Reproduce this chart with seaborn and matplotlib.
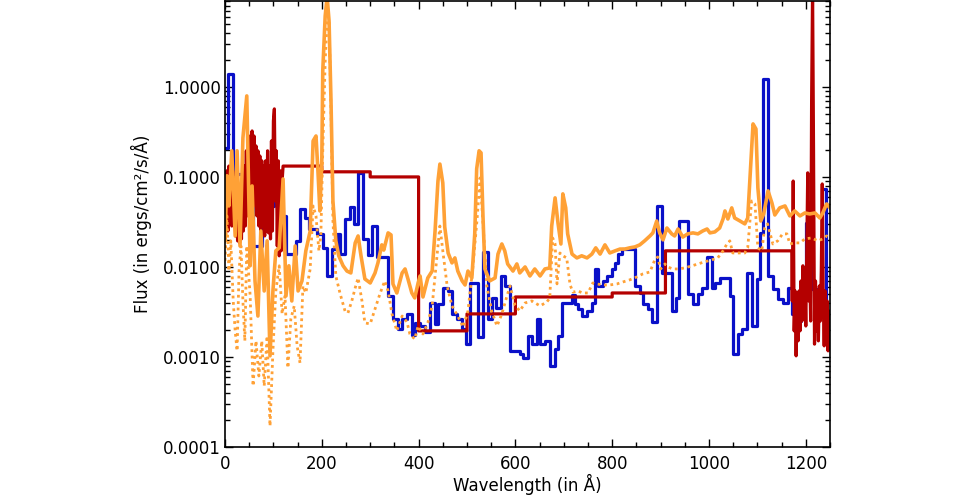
import numpy as np
import pandas as pd
import matplotlib
matplotlib.use("Agg")
import matplotlib.pyplot as plt
import seaborn as sns
from matplotlib.ticker import MultipleLocator, FixedLocator, LogLocator, NullFormatter, FuncFormatter

# ---------------- data ----------------
# blue binned spectrum (bin edges in Angstrom, flux per bin)
blue_edges = [0, 6, 17, 37, 58, 76, 91, 101, 110, 120, 126, 147, 155, 165, 174, 190, 202, 211, 221, 231,
              238, 248, 258, 266, 275, 285, 295, 304, 314, 337, 347, 357, 366, 376, 386, 392, 403, 413, 423, 434,
              440, 450, 461, 469, 479, 490, 498, 506, 522, 533, 543, 551, 560, 570, 578, 589, 609, 615, 626, 634,
              644, 651, 661, 671, 682, 688, 696, 717, 723, 729, 737, 748, 758, 764, 770, 781, 789, 799, 806, 812,
              820, 847, 857, 863, 874, 882, 892, 903, 923, 931, 938, 956, 967, 977, 985, 996, 1006, 1012, 1022, 1043,
              1049, 1060, 1068, 1078, 1088, 1099, 1105, 1111, 1121, 1132, 1142, 1152, 1163, 1171, 1181, 1190, 1200,
              1210, 1223, 1233, 1241, 1250]
blue_flux = [0.210, 1.39, 0.108, 0.090, 0.0171, 0.0648, 0.0476, 0.0570, 0.0205, 0.0369, 0.0139, 0.0195, 0.0441,
             0.0350, 0.0264, 0.0233, 0.0163, 0.00794, 0.0158, 0.0233, 0.0139, 0.0341, 0.0464, 0.0301, 0.111, 0.0205,
             0.0136, 0.0285, 0.0130, 0.00476, 0.00264, 0.00205, 0.00264, 0.00301, 0.00176, 0.00239, 0.00221, 0.00190,
             0.00398, 0.00233, 0.00388, 0.00585, 0.00541, 0.00301, 0.00264, 0.00205, 0.00139, 0.00664, 0.00167,
             0.0145, 0.00264, 0.00453, 0.00350, 0.00794, 0.00615, 0.00117, 0.00108, 0.000975, 0.00171, 0.00139,
             0.00264, 0.00139, 0.00151, 0.000794, 0.00123, 0.00171, 0.00398, 0.00489, 0.00388, 0.00341, 0.00285,
             0.00324, 0.00398, 0.0095, 0.00615, 0.00699, 0.00794, 0.0095, 0.0111, 0.0139, 0.0158, 0.00615, 0.00514,
             0.00388, 0.00341, 0.00245, 0.0476, 0.00858, 0.00324, 0.00453, 0.0324, 0.00501, 0.00388, 0.00501,
             0.00585, 0.0130, 0.00585, 0.00664, 0.00755, 0.00476, 0.00108, 0.00180, 0.00205, 0.00858, 0.00221,
             0.00736, 0.0239, 1.23, 0.00794, 0.00570, 0.00441, 0.00398, 0.00585, 0.00301, 0.00251, 0.00615, 0.0308,
             0.00570, 0.00419, 0.0736, 0.00310]

# dark red: noisy short-wavelength part, coarse bins, noisy long-wavelength part
red_lo_wave = [0, 2, 4, 6, 8, 10, 12, 14, 16, 18, 20, 22, 24, 26, 28, 30, 32, 34, 36, 38,
               40, 42, 44, 46, 48, 50, 52, 54, 56, 58, 60, 62, 64, 66, 68, 70, 72, 74, 76, 78,
               80, 82, 84, 86, 88, 90, 92, 94, 96, 98, 100, 102, 104, 106, 108, 110, 112, 114, 116, 118]
red_lo_flux = [0.0195, 0.0541, 0.117, 0.0251, 0.132, 0.0419, 0.090, 0.0285, 0.117, 0.0369,
               0.0794, 0.0221, 0.0615, 0.0195, 0.0541, 0.0185, 0.0699, 0.0205, 0.090, 0.0251,
               0.132, 0.0285, 0.195, 0.0369, 0.251, 0.0419, 0.285, 0.0541, 0.324, 0.0615,
               0.285, 0.0476, 0.221, 0.0369, 0.195, 0.0285, 0.171, 0.0221, 0.151, 0.0285,
               0.132, 0.0221, 0.151, 0.0251, 0.195, 0.0239, 0.132, 0.0205, 0.251, 0.0251,
               0.419, 0.570, 0.0541, 0.195, 0.0171, 0.151, 0.0133, 0.117, 0.0151, 0.090]
red_bin_edges = [120, 200, 300, 400, 500, 600, 800, 910, 1171]
red_bin_flux = [0.132, 0.114, 0.100, 0.00195, 0.00301, 0.00464, 0.00514, 0.0151]
red_hi_wave = [1172, 1174, 1176, 1178, 1180, 1182, 1184, 1186, 1188, 1190, 1192, 1194, 1196, 1198, 1200,
               1202, 1204, 1206, 1208, 1210, 1212, 1214, 1216, 1218, 1220, 1222, 1224, 1226, 1228, 1230,
               1232, 1234, 1236, 1238, 1240, 1242, 1244, 1246, 1248, 1250]
red_hi_flux = [0.00419, 0.090, 0.00195, 0.00541, 0.00103, 0.00419, 0.00151, 0.00541, 0.00195, 0.00699,
               0.00251, 0.0103, 0.00285, 0.00699, 0.00221, 0.0151, 0.111, 0.00419, 0.0117, 0.00251,
               0.699, 12.0, 0.195, 0.00139, 0.00699, 0.00195, 0.00541, 0.00151, 0.00615, 0.00251,
               0.0090, 0.0835, 0.00419, 0.00133, 0.00541, 0.00195, 0.00419, 0.00117, 0.00324, 0.00195]

# orange solid model
orange_wave = [0, 4, 8, 14, 21, 25, 31, 37, 45, 52, 56, 62, 68, 74, 81, 87, 93, 99, 105, 112,
               120, 126, 132, 138, 145, 151, 159, 167, 176, 182, 188, 192, 196, 200, 202, 207, 211, 215, 219, 223,
               229, 235, 244, 252, 260, 269, 275, 281, 289, 300, 310, 316, 324, 328, 337, 343, 347, 355, 366, 372,
               378, 386, 392, 399, 403, 409, 419, 428, 434, 440, 444, 450, 454, 461, 469, 475, 481, 490, 496, 502,
               510, 516, 520, 525, 529, 533, 537, 547, 558, 564, 572, 578, 584, 595, 603, 609, 620, 630, 640, 651,
               661, 671, 675, 682, 688, 694, 698, 704, 708, 717, 727, 737, 748, 758, 766, 775, 785, 795, 806, 816,
               826, 836, 847, 857, 867, 878, 884, 892, 898, 905, 913, 923, 929, 936, 946, 956, 967, 977, 987, 996,
               1002, 1012, 1022, 1029, 1033, 1039, 1047, 1053, 1064, 1074, 1080, 1086, 1091, 1097, 1101, 1107, 1113,
               1122, 1130, 1136, 1146, 1157, 1167, 1177, 1188, 1198, 1208, 1219, 1229, 1235, 1243, 1250]
orange_flux = [0.0195, 0.103, 0.0476, 0.195, 0.0221, 0.195, 0.0171, 0.271, 0.794, 0.0103,
               0.0794, 0.0070, 0.00285, 0.0251, 0.00541, 0.0195, 0.00103, 0.00541, 0.0151, 0.0163,
               0.095, 0.00476, 0.0103, 0.00419, 0.0171, 0.00541, 0.0070, 0.0151, 0.0251, 0.251,
               0.285, 0.117, 0.0419, 0.151, 1.51, 6.15, 10.0, 5.41, 0.699, 0.0541,
               0.0195, 0.0133, 0.0103, 0.0090, 0.00858, 0.0185, 0.0221, 0.0133, 0.00736, 0.00664,
               0.00858, 0.0111, 0.0176, 0.0154, 0.0239, 0.0227, 0.00648, 0.00514, 0.00858, 0.0095,
               0.00736, 0.00514, 0.00453, 0.00664, 0.00794, 0.00464, 0.00755, 0.0090, 0.0251, 0.090,
               0.139, 0.0858, 0.0278, 0.0143, 0.0111, 0.0126, 0.0090, 0.0070, 0.00631, 0.0090,
               0.00755, 0.0233, 0.123, 0.195, 0.185, 0.0369, 0.0095, 0.0070, 0.00755, 0.0139,
               0.0180, 0.0151, 0.0108, 0.0090, 0.0108, 0.00858, 0.0100, 0.00794, 0.0095, 0.00794,
               0.0095, 0.00975, 0.0285, 0.0585, 0.0308, 0.0180, 0.0648, 0.0453, 0.0233, 0.0139,
               0.0126, 0.0133, 0.0126, 0.0139, 0.0163, 0.0139, 0.0176, 0.0143, 0.0151, 0.0158,
               0.0158, 0.0163, 0.0167, 0.0176, 0.0195, 0.0221, 0.0239, 0.0324, 0.0239, 0.0200,
               0.0271, 0.0233, 0.0221, 0.0264, 0.0215, 0.0233, 0.0239, 0.0233, 0.0251, 0.0264,
               0.0239, 0.0245, 0.0271, 0.0341, 0.0419, 0.0341, 0.0453, 0.0350, 0.0324, 0.0301,
               0.0350, 0.132, 0.388, 0.341, 0.0755, 0.0324, 0.0388, 0.0699, 0.0514, 0.0378,
               0.0453, 0.0476, 0.0369, 0.0419, 0.0369, 0.0398, 0.0388, 0.0398, 0.0350, 0.0398,
               0.0501, 0.0453]

# orange dotted model
dotted_wave = [0, 4, 8, 12, 17, 21, 25, 29, 33, 37, 41, 45, 52, 58, 64, 70, 76, 81, 87, 93,
               99, 105, 112, 118, 124, 130, 136, 143, 149, 155, 161, 167, 176, 182, 188, 194, 198, 202, 207, 211,
               215, 219, 223, 229, 238, 248, 254, 262, 269, 275, 283, 289, 300, 310, 320, 330, 337, 345, 355, 366,
               376, 382, 392, 399, 409, 419, 428, 438, 444, 450, 459, 469, 481, 492, 502, 512, 521, 527, 533, 541,
               551, 562, 572, 582, 589, 599, 609, 620, 634, 651, 665, 671, 677, 682, 686, 692, 698, 706, 713, 719,
               729, 739, 750, 760, 768, 781, 795, 810, 822, 836, 851, 863, 878, 888, 894, 900, 909, 915, 925, 936,
               950, 965, 977, 991, 1006, 1018, 1029, 1037, 1043, 1049, 1060, 1074, 1080, 1088, 1095, 1101, 1109,
               1115, 1121, 1132, 1142, 1152, 1161, 1167, 1177, 1188, 1198, 1212, 1225, 1235, 1243, 1250]
dotted_flux = [0.0117, 0.0369, 0.0090, 0.0195, 0.00419, 0.00195, 0.00117, 0.0090, 0.0171, 0.00419,
               0.00151, 0.0171, 0.00476, 0.000476, 0.00151, 0.000615, 0.00151, 0.000476, 0.00171, 0.000171,
               0.00117, 0.00541, 0.0103, 0.00301, 0.00476, 0.000755, 0.00264, 0.00369, 0.00133, 0.000858,
               0.00615, 0.00514, 0.0095, 0.0476, 0.0369, 0.0151, 0.0221, 0.195, 1.95, 5.41,
               5.41, 0.541, 0.0324, 0.00794, 0.00501, 0.00324, 0.00308, 0.00419, 0.00585, 0.00755,
               0.00419, 0.00239, 0.00233, 0.00341, 0.00501, 0.00699, 0.00541, 0.00301, 0.00195, 0.00285,
               0.00245, 0.00180, 0.00158, 0.00221, 0.00180, 0.00239, 0.00369, 0.0133, 0.0285, 0.0151,
               0.00615, 0.00369, 0.00285, 0.00215, 0.00324, 0.00975, 0.0350, 0.0975, 0.0308, 0.00615,
               0.00324, 0.00221, 0.00301, 0.00464, 0.00615, 0.00379, 0.00324, 0.00398, 0.00419, 0.00369,
               0.00408, 0.00453, 0.0210, 0.0180, 0.00648, 0.0143, 0.0133, 0.0126, 0.00631, 0.00525,
               0.00541, 0.00514, 0.00514, 0.00664, 0.00648, 0.00631, 0.00631, 0.00648, 0.00681, 0.00718,
               0.00775, 0.00836, 0.00880, 0.0120, 0.0129, 0.0095, 0.0108, 0.0100, 0.0095, 0.0095,
               0.00975, 0.0103, 0.0108, 0.0114, 0.0120, 0.0126, 0.0151, 0.0180, 0.0195, 0.0143,
               0.0143, 0.0143, 0.0163, 0.0541, 0.0501, 0.0163, 0.0151, 0.0271, 0.0301, 0.0180,
               0.0195, 0.0233, 0.0233, 0.0180, 0.0185, 0.0185, 0.0205, 0.0210, 0.0195, 0.0205,
               0.0221, 0.0210]

x_ticks = [0, 200, 400, 600, 800, 1000, 1200]
y_ticks = [0.0001, 0.001, 0.01, 0.1, 1.0]

BLUE = "#0a10c8"
RED = "#b40000"
ORANGE = "#ffa136"


def stairs(edges, vals):
    xs, ys = [], []
    for i, v in enumerate(vals):
        xs += [edges[i], edges[i + 1]]
        ys += [v, v]
    return xs, ys


# ---------------- figure ----------------
sns.set_theme(style="ticks")
plt.rcParams['font.family'] = ['DejaVu Sans']
plt.rcParams['font.size'] = 12

fig = plt.figure(figsize=(9.6, 4.98), dpi=100)
fig.patch.set_facecolor("white")
ax = fig.add_axes([225 / 960, 1 - 447 / 498, 605 / 960, 446 / 498])
ax.set_facecolor("white")
ax.set_yscale("log")

bx, by = stairs(blue_edges, blue_flux)
df_blue = pd.DataFrame({"wave": bx, "flux": by})

sx, sy = stairs(red_bin_edges, red_bin_flux)
df_red = pd.DataFrame({"wave": red_lo_wave + sx + red_hi_wave,
                       "flux": red_lo_flux + sy + red_hi_flux})
df_or = pd.DataFrame({"wave": orange_wave, "flux": orange_flux})
df_dot = pd.DataFrame({"wave": dotted_wave, "flux": dotted_flux})

sns.lineplot(data=df_blue, x="wave", y="flux", sort=False, estimator=None,
             color=BLUE, lw=2.3, ax=ax, legend=False)
sns.lineplot(data=df_red, x="wave", y="flux", sort=False, estimator=None,
             color=RED, lw=2.3, ax=ax, legend=False)
sns.lineplot(data=df_or, x="wave", y="flux", sort=False, estimator=None,
             color=ORANGE, lw=2.6, ax=ax, legend=False)
sns.lineplot(data=df_dot, x="wave", y="flux", sort=False, estimator=None,
             color=ORANGE, lw=2.0, ls=(0, (1, 1.3)), ax=ax, legend=False)

ax.set_xlim(0, 1250)
ax.set_ylim(1e-4, 9.0)

ax.xaxis.set_major_locator(FixedLocator(x_ticks))
ax.xaxis.set_minor_locator(MultipleLocator(50))
ax.yaxis.set_major_locator(FixedLocator(y_ticks))
ax.yaxis.set_major_formatter(FuncFormatter(lambda v, p: f"{v:.4f}"))
ax.yaxis.set_minor_locator(LogLocator(base=10, subs=np.arange(2, 10), numticks=20))
ax.yaxis.set_minor_formatter(NullFormatter())

ax.tick_params(which="both", direction="in", top=True, right=True, colors="black",
               labelcolor="black", labelsize=12)
ax.tick_params(which="major", length=6, width=1.0)
ax.tick_params(which="minor", length=3.3, width=1.0)
ax.tick_params(axis="x", which="major", pad=6)
ax.tick_params(axis="y", which="major", pad=3)

for sp in ax.spines.values():
    sp.set_visible(True)
    sp.set_color("black")
    sp.set_linewidth(1.2)

ax.set_xlabel("Wavelength (in Å)", fontsize=12, color="black", labelpad=0.5)
ax.set_ylabel("Flux (in ergs/cm²/s/Å)", fontsize=12, color="black", labelpad=8)

fig.savefig("out.png", dpi=100, facecolor="white")
